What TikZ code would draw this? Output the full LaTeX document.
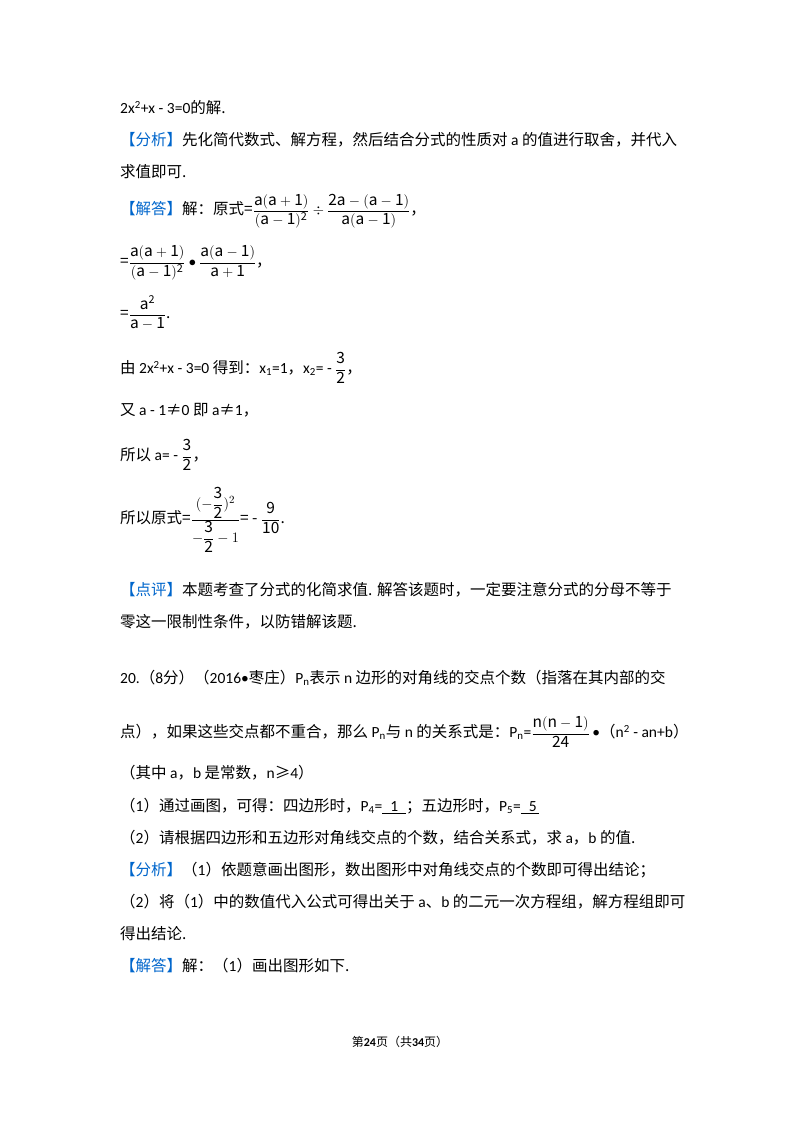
\documentclass[tikz,border=0pt]{standalone}
\usepackage{fontspec}
\setmainfont{Noto Sans CJK SC}
\newfontfamily\lat{Carlito}
\definecolor{blu}{RGB}{0,102,204}
\newcommand{\df}[2]{{\displaystyle\frac{\mathrm{#1}}{\mathrm{#2}}}}
\begin{document}
\begin{tikzpicture}[x=1pt,y=-1pt,
  t/.style={anchor=west,inner sep=0pt,font=\fontsize{15.5}{18}\selectfont},
  b/.style={text=blu}]
\useasboundingbox (0,0) rectangle (800,1132);
\fill[white] (0,0) rectangle (800,1132);
\node[t] (l1) at (120,108) {{\lat 2x\textsuperscript{2}+x - 3=0}的解.};
\node[t] (l2) at (120,140) {\textcolor{blu}{【分析】}先化简代数式、解方程，然后结合分式的性质对 {\lat a} 的值进行取舍，并代入};
\node[t] (l3) at (120,172) {求值即可.};
\node[t] (l4) at (120,211) {\textcolor{blu}{【解答】}解：原式=$\df{a(a+1)}{(a-1)^2}\div\df{2a-(a-1)}{a(a-1)}$，};
\node[t] (l5) at (120,263) {=$\df{a(a+1)}{(a-1)^2}\bullet\df{a(a-1)}{a+1}$，};
\node[t] (l6) at (120,313) {=$\df{a^2}{a-1}$.};
\node[t] (l7) at (120,368) {由 {\lat 2x\textsuperscript{2}+x - 3=0} 得到：{\lat x\textsubscript{1}=1}，{\lat x\textsubscript{2}= -} $\df{3}{2}$，};
\node[t] (l8) at (120,410) {又 {\lat a - 1}≠{\lat 0} 即 {\lat a}≠{\lat 1}，};
\node[t] (l9) at (120,455) {所以 {\lat a= -} $\df{3}{2}$，};
\node[t] (l10) at (120,520) {所以原式=$\displaystyle\frac{(-\df{3}{2})^2}{-\df{3}{2}-1}$= - $\df{9}{10}$.};
\node[t] (l11) at (120,590) {\textcolor{blu}{【点评】}本题考查了分式的化简求值. 解答该题时，一定要注意分式的分母不等于};
\node[t] (l12) at (120,622) {零这一限制性条件，以防错解该题.};
\node[t] (l13) at (120,678) {{\lat 20.}（{\lat 8}分）（{\lat 2016•}枣庄）{\lat P\textsubscript{n}}表示 {\lat n} 边形的对角线的交点个数（指落在其内部的交};
\node[t] (l14) at (120,732) {点），如果这些交点都不重合，那么 {\lat P\textsubscript{n}}与 {\lat n} 的关系式是：{\lat P\textsubscript{n}=}$\df{n(n-1)}{24}$\,{\lat •}（{\lat n\textsuperscript{2} - an+b}）};
\node[t] (l15) at (120,773) {（其中 {\lat a}，{\lat b} 是常数，{\lat n}≥{\lat 4}）};
\node[t] (l16) at (120,806) {（{\lat 1}）通过画图，可得：四边形时，{\lat P\textsubscript{4}=}\underline{\hspace{8pt}{\lat 1}\hspace{8pt}}；五边形时，{\lat P\textsubscript{5}=}\underline{\hspace{8pt}{\lat 5}\hspace{2pt}}};
\node[t] (l17) at (120,838) {（{\lat 2}）请根据四边形和五边形对角线交点的个数，结合关系式，求 {\lat a}，{\lat b} 的值.};
\node[t] (l18) at (120,870) {\textcolor{blu}{【分析】}（{\lat 1}）依题意画出图形，数出图形中对角线交点的个数即可得出结论；};
\node[t] (l19) at (120,902) {（{\lat 2}）将（{\lat 1}）中的数值代入公式可得出关于 {\lat a}、{\lat b} 的二元一次方程组，解方程组即可};
\node[t] (l20) at (120,934) {得出结论.};
\node[t] (l21) at (120,966) {\textcolor{blu}{【解答】}解：（{\lat 1}）画出图形如下.};
\node[inner sep=0pt,font=\fontsize{12}{14}\selectfont] (ft) at (400,1042) {第\textbf{\lat 24}页（共\textbf{\lat 34}页）};
\end{tikzpicture}
\end{document}
